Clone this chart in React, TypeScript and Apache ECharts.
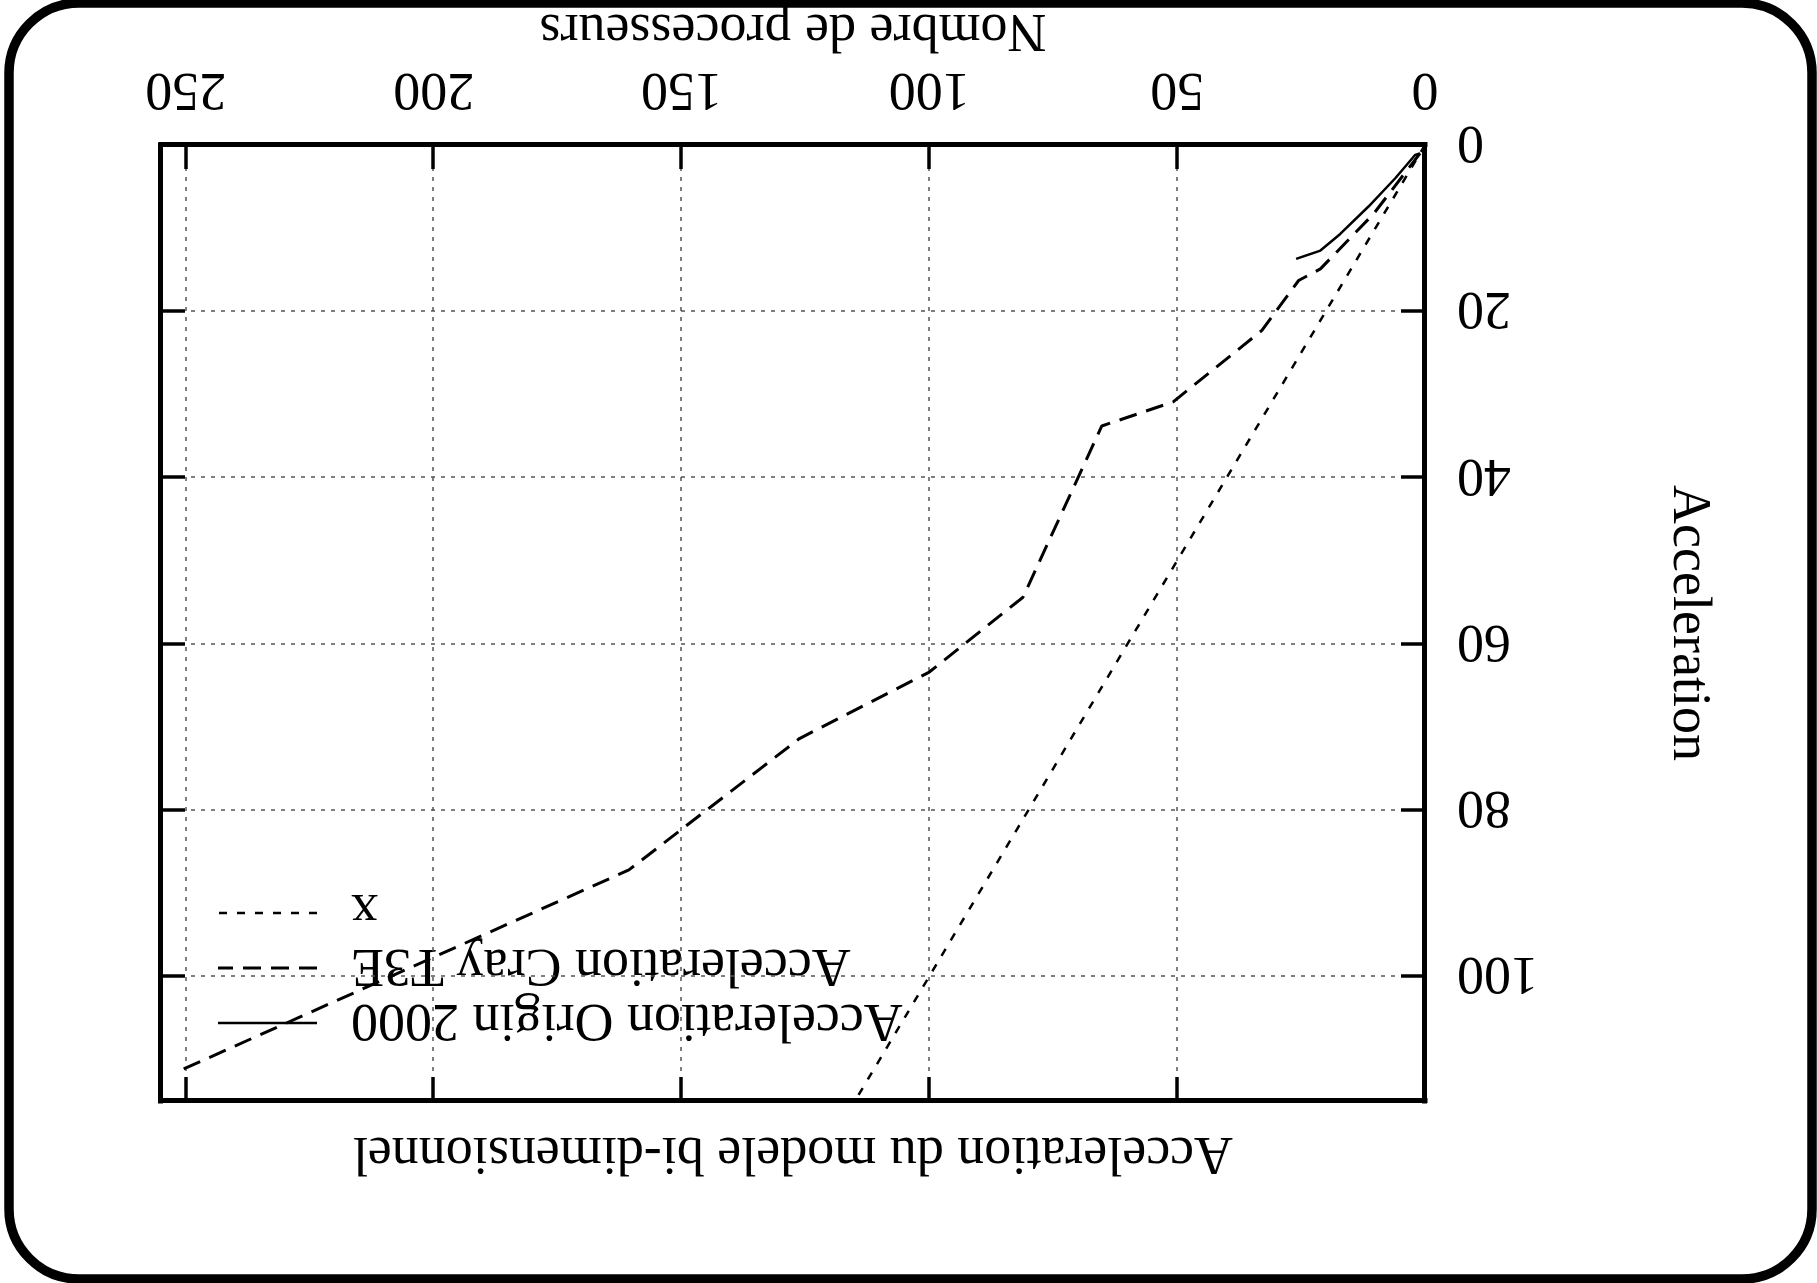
import React, { useEffect, useRef } from 'react';
import * as echarts from 'echarts';

// ---- data read from the (upside-down) reference ----
const titleText = 'Acceleration du modele bi-dimensionnel';
const xAxisName = 'Nombre de processeurs';
const yAxisName = 'Acceleration';
const seriesNames = ['Acceleration Origin 2000', 'Acceleration Cray T3E', 'x'];
const xTicks = [0, 50, 100, 150, 200, 250];
const yTicks = [0, 20, 40, 60, 80, 100];
const xRange = [0, 255];
const yRange = [0, 115];

const origin2000: number[][] = [
  [1, 1], [2, 1.2], [6, 4.0], [11.4, 7.4], [17.1, 10.7], [21.1, 12.7], [26, 13.7],
];
const crayT3E: number[][] = [
  [1, 1], [10.4, 8.3], [21.1, 14.9], [25.5, 16.3], [32.9, 22.3], [50.8, 30.9], [65.2, 33.8],
  [81.1, 54.4], [100, 63.4], [126.2, 71.4], [160.6, 87.2], [251, 111.3],
];
const identityLine: number[][] = [[0, 0], [255, 255]];

const FONT = '"Liberation Serif", "Times New Roman", serif';
const FS = 54;

export default function App() {
  const ref = useRef<HTMLDivElement>(null);
  useEffect(() => {
    if (!ref.current) return;
    const chart = echarts.init(ref.current, undefined, { renderer: 'svg' });
    const gridLeft = 392, gridRight = 161, gridTop = 182, gridBottom = 145;
    const W = 1817;
    const plotCx = (gridLeft + (W - gridRight)) / 2;

    const axisLine = { show: true, onZero: false, lineStyle: { color: '#000', width: 5, cap: 'square' } };
    const axisTick = { show: true, inside: true, length: 24, lineStyle: { color: '#000', width: 3.5 } };
    const splitLine = { show: true, lineStyle: { color: '#555', width: 1.5, type: [4, 6] } };
    const labelStyle = { fontFamily: FONT, fontSize: FS, color: '#000' };

    const xFmt = (v: number) => (xTicks.indexOf(v) >= 0 ? String(v) : '');
    const yFmt = (v: number) => (yTicks.indexOf(v) >= 0 ? String(v) : '');

    const styles = [
      { type: 'solid' as any, width: 2.5 },
      { type: [18, 10] as any, width: 3 },
      { type: [8, 10] as any, width: 2.5 },
    ];
    const datas = [origin2000, crayT3E, identityLine];
    const legendX1 = 1500, legendX2 = 1599, legendTextX = 1466;
    const legendRows = [260, 315, 370];

    const legendGraphics: any[] = [];
    seriesNames.forEach((name, i) => {
      legendGraphics.push({
        type: 'text',
        x: legendTextX,
        y: legendRows[i],
        style: { text: name, font: `${FS}px ${FONT}`, fill: '#000', align: 'right', verticalAlign: 'middle' },
      });
      legendGraphics.push({
        type: 'line',
        shape: { x1: legendX1, y1: legendRows[i], x2: legendX2, y2: legendRows[i] },
        style: { stroke: '#000', lineWidth: styles[i].width, lineDash: styles[i].type === 'solid' ? null : styles[i].type },
      });
    });

    chart.setOption({
      animation: false,
      backgroundColor: '#fff',
      grid: { left: gridLeft, right: gridRight, top: gridTop, bottom: gridBottom, containLabel: false, outerBoundsMode: 'none' },
      legend: { show: false },
      graphic: [
        {
          type: 'rect',
          shape: { x: 5, y: 4, width: 1803, height: 1276, r: 70 },
          style: { fill: 'none', stroke: '#000', lineWidth: 9.5 },
          z: 100,
        },
        {
          type: 'text',
          x: plotCx,
          y: 127,
          style: { text: titleText, font: `${FS}px ${FONT}`, fill: '#000', align: 'center', verticalAlign: 'middle' },
        },
        ...legendGraphics,
      ],
      xAxis: [
        {
          type: 'value', position: 'bottom', min: xRange[0], max: xRange[1], interval: 50,
          axisLine, axisTick, splitLine,
          axisLabel: { ...labelStyle, margin: 26, formatter: xFmt },
          name: xAxisName, nameLocation: 'middle', nameGap: 83,
          nameTextStyle: { ...labelStyle },
        },
        {
          type: 'value', position: 'top', min: xRange[0], max: xRange[1], interval: 50,
          axisLine, axisTick, splitLine: { show: false }, axisLabel: { show: false },
        },
      ],
      yAxis: [
        {
          type: 'value', position: 'left', min: yRange[0], max: yRange[1], interval: 20,
          axisLine, axisTick, splitLine,
          axisLabel: { ...labelStyle, margin: 32, formatter: yFmt },
          name: yAxisName, nameLocation: 'middle', nameGap: 240, nameRotate: 90,
          nameTextStyle: { ...labelStyle },
        },
        {
          type: 'value', position: 'right', min: yRange[0], max: yRange[1], interval: 20,
          axisLine, axisTick, splitLine: { show: false }, axisLabel: { show: false },
        },
      ],
      series: datas.map((d, i) => ({
        name: seriesNames[i],
        type: 'line',
        data: d,
        showSymbol: false,
        symbol: 'none',
        clip: true,
        xAxisIndex: 0,
        yAxisIndex: 0,
        lineStyle: { color: '#000', width: styles[i].width, type: styles[i].type },
        z: 3,
      })),
    });
    return () => chart.dispose();
  }, []);

  return (
    <div
      style={{
        position: 'absolute', left: 0, top: 0, width: 1817, height: 1283,
        transform: 'rotate(180deg)', background: '#fff', overflow: 'hidden',
      }}
    >
      <div ref={ref} style={{ width: 1817, height: 1283 }} />
    </div>
  );
}
